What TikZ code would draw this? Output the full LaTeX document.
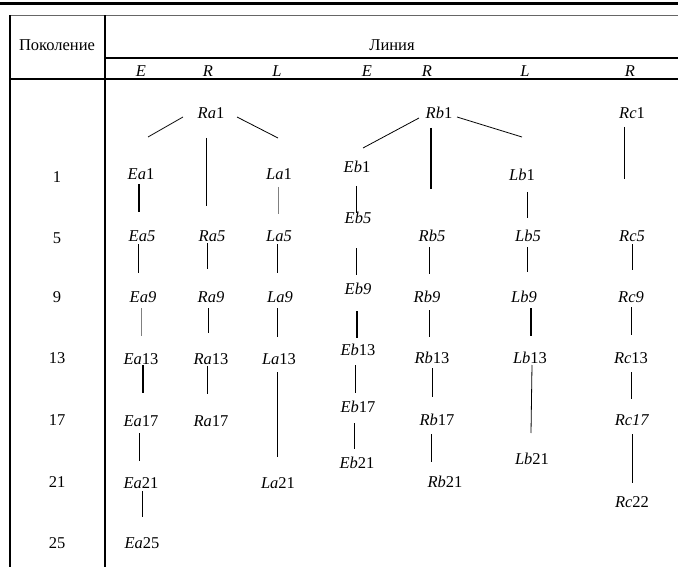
\documentclass[tikz,border=0pt]{standalone}
\usepackage{fontspec}
\setmainfont{Liberation Serif}
\usetikzlibrary{calc}
\begin{document}
\begin{tikzpicture}[x=1pt,y=-1pt,
  lbl/.style={inner sep=0pt,anchor=center,font=\fontsize{16.5}{18}\selectfont},
  ln/.style={line width=0.8pt,black},
  thk/.style={line width=1.3pt,black},
  gry/.style={line width=0.7pt,black!50},
  rule/.style={line width=1.2pt,black}]
\useasboundingbox[fill=white] (0,0) rectangle (678,567);
% table rules
\draw[line width=3pt] (0,4) -- (678,4);
\draw[line width=0.8pt,black!60] (10,15.5) -- (678,15.5);
\draw[rule] (10,15.5) -- (10,567);
\draw[rule] (105,15.5) -- (105,567);
\draw[rule] (105,58) -- (678,58);
\draw[rule] (10,79) -- (678,79);
% headers
\node[lbl] (hgen) at (57,45) {Поколение};
\node[lbl] (hline) at (392,45) {Линия};
\node[lbl] (h1) at (141,71) {\textit{E}};
\node[lbl] (h2) at (208,71) {\textit{R}};
\node[lbl] (h3) at (277,71) {\textit{L}};
\node[lbl] (h4) at (367,71) {\textit{E}};
\node[lbl] (h5) at (427,71) {\textit{R}};
\node[lbl] (h6) at (525,71) {\textit{L}};
\node[lbl] (h7) at (630,71) {\textit{R}};
% generations
\node[lbl] (g1) at (57,177) {1};
\node[lbl] (g5) at (57,238) {5};
\node[lbl] (g9) at (57,297) {9};
\node[lbl] (g13) at (57,358) {13};
\node[lbl] (g17) at (57,420) {17};
\node[lbl] (g21) at (57,482) {21};
\node[lbl] (g25) at (57,543) {25};
% nodes
\node[lbl] (Ra1) at (211,113) {\textit{Ra}1};
\node[lbl] (Rb1) at (439,113) {\textit{Rb}1};
\node[lbl] (Rc1) at (632,113) {\textit{Rc}1};
\node[lbl] (Ea1) at (141,174) {\textit{Ea}1};
\node[lbl] (La1) at (279,174) {\textit{La}1};
\node[lbl] (Eb1) at (357,167) {\textit{Eb}1};
\node[lbl] (Lb1) at (522,175) {\textit{Lb}1};
\node[lbl] (Ea5) at (142,236) {\textit{Ea5}};
\node[lbl] (Ra5) at (212,236) {\textit{Ra5}};
\node[lbl] (La5) at (279,236) {\textit{La5}};
\node[lbl] (Eb5) at (358,218) {\textit{Eb5}};
\node[lbl] (Rb5) at (432,236) {\textit{Rb5}};
\node[lbl] (Lb5) at (528,236) {\textit{Lb5}};
\node[lbl] (Rc5) at (632,236) {\textit{Rc5}};
\node[lbl] (Ea9) at (143,297) {\textit{Ea9}};
\node[lbl] (Ra9) at (211,297) {\textit{Ra9}};
\node[lbl] (La9) at (280,297) {\textit{La9}};
\node[lbl] (Eb9) at (358,289) {\textit{Eb9}};
\node[lbl] (Rb9) at (427,297) {\textit{Rb9}};
\node[lbl] (Lb9) at (524,297) {\textit{Lb9}};
\node[lbl] (Rc9) at (631,297) {\textit{Rc9}};
\node[lbl] (Ea13) at (141,359) {\textit{Ea}13};
\node[lbl] (Ra13) at (211,359) {\textit{Ra}13};
\node[lbl] (La13) at (279,359) {\textit{La}13};
\node[lbl] (Eb13) at (358,350) {\textit{Eb}13};
\node[lbl] (Rb13) at (432,358) {\textit{Rb}13};
\node[lbl] (Lb13) at (530,358) {\textit{Lb}13};
\node[lbl] (Rc13) at (631,358) {\textit{Rc}13};
\node[lbl] (Ea17) at (141,421) {\textit{Ea}17};
\node[lbl] (Ra17) at (211,421) {\textit{Ra}17};
\node[lbl] (Eb17) at (358,407) {\textit{Eb}17};
\node[lbl] (Rb17) at (437,420) {\textit{Rb}17};
\node[lbl] (Rc17) at (632,420) {\textit{Rc17}};
\node[lbl] (Ea21) at (141,483) {\textit{Ea}21};
\node[lbl] (La21) at (278,483) {\textit{La}21};
\node[lbl] (Eb21) at (357,463) {\textit{Eb}21};
\node[lbl] (Lb21) at (532,459) {\textit{Lb}21};
\node[lbl] (Rb21) at (445,482) {\textit{Rb}21};
\node[lbl] (Rc22) at (632,502) {\textit{Rc}22};
\node[lbl] (Ea25) at (142,543) {\textit{Ea}25};
% connectors from roots
\draw[ln] ($(Ra1)+(-28,4)$) -- ($(Ea1)+(7,-37)$);
\draw[ln] ($(Ra1)+(26,4)$) -- ($(La1)+(-1,-36)$);
\draw[ln] ($(Ra1)+(-5,25)$) -- ($(Ra5)+(-6,-30)$);
\draw[ln] ($(Rb1)+(-20,5)$) -- ($(Eb1)+(6,-19)$);
\draw[ln] ($(Rb1)+(18,4)$) -- ($(Lb1)+(0,-38)$);
\draw[thk] ($(Rb1)+(-8,15)$) -- ($(Rb5)+(-1,-47)$);
\draw[ln] ($(Rc1)+(-8,14)$) -- ($(Rc5)+(-8,-57)$);
% vertical connectors
\draw[thk] ($(Ea1)+(-2,10)$) -- ($(Ea5)+(-3,-24)$);
\draw[gry] ($(La1)+(-1,13)$) -- ($(La5)+(-1,-22)$);
\draw[ln] ($(Eb1)+(-1,19)$) -- ($(Eb5)+(-2,-5)$);
\draw[ln] ($(Lb1)+(5,17)$) -- ($(Lb5)+(-1,-18)$);
\draw[ln] ($(Ea5)+(-4,8)$) -- ($(Ea9)+(-5,-24)$);
\draw[ln] ($(Ra5)+(-5,7)$) -- ($(Ra9)+(-4,-28)$);
\draw[ln] ($(La5)+(-2,8)$) -- ($(La9)+(-3,-24)$);
\draw[ln] ($(Eb5)+(-2,30)$) -- ($(Eb9)+(-2,-14)$);
\draw[ln] ($(Rb5)+(-3,11)$) -- ($(Rb9)+(2,-23)$);
\draw[ln] ($(Lb5)+(-1,11)$) -- ($(Lb9)+(3,-25)$);
\draw[ln] ($(Rc5)+(0,8)$) -- ($(Rc9)+(1,-27)$);
\draw[gry] ($(Ea9)+(-2,11)$) -- ($(Ea13)+(0,-23)$);
\draw[ln] ($(Ra9)+(-3,11)$) -- ($(Ra13)+(-3,-26)$);
\draw[ln] ($(La9)+(-3,11)$) -- ($(La13)+(-2,-22)$);
\draw[thk] ($(Eb9)+(-1,22)$) -- ($(Eb13)+(-1,-12)$);
\draw[ln] ($(Rb9)+(2,13)$) -- ($(Rb13)+(-3,-21)$);
\draw[thk] ($(Lb9)+(7,11)$) -- ($(Lb13)+(1,-22)$);
\draw[ln] ($(Rc9)+(0,10)$) -- ($(Rc13)+(0,-23)$);
\draw[thk] ($(Ea13)+(2,6)$) -- ($(Ea17)+(2,-28)$);
\draw[ln] ($(Ra13)+(-4,7)$) -- ($(Ra17)+(-4,-27)$);
\draw[ln] ($(La13)+(-2,13)$) -- ($(La21)+(-1,-26)$);
\draw[ln] ($(Eb13)+(-3,15)$) -- ($(Eb17)+(-3,-14)$);
\draw[ln] ($(Rb13)+(0,10)$) -- ($(Rb17)+(-5,-23)$);
\draw[ln] ($(Lb13)+(2,7)$) -- ($(Lb21)+(-1,-26)$);
\draw[ln] ($(Rc13)+(0,14)$) -- ($(Rc17)+(-1,-21)$);
\draw[ln] ($(Ea17)+(-2,12)$) -- ($(Ea21)+(-2,-22)$);
\draw[ln] ($(Eb17)+(-4,16)$) -- ($(Eb21)+(-3,-14)$);
\draw[ln] ($(Rb17)+(-6,14)$) -- ($(Rb21)+(-14,-20)$);
\draw[ln] ($(Rc17)+(0,14)$) -- ($(Rc22)+(0,-19)$);
\draw[ln] ($(Ea21)+(1,8)$) -- ($(Ea25)+(0,-26)$);
\end{tikzpicture}
\end{document}
